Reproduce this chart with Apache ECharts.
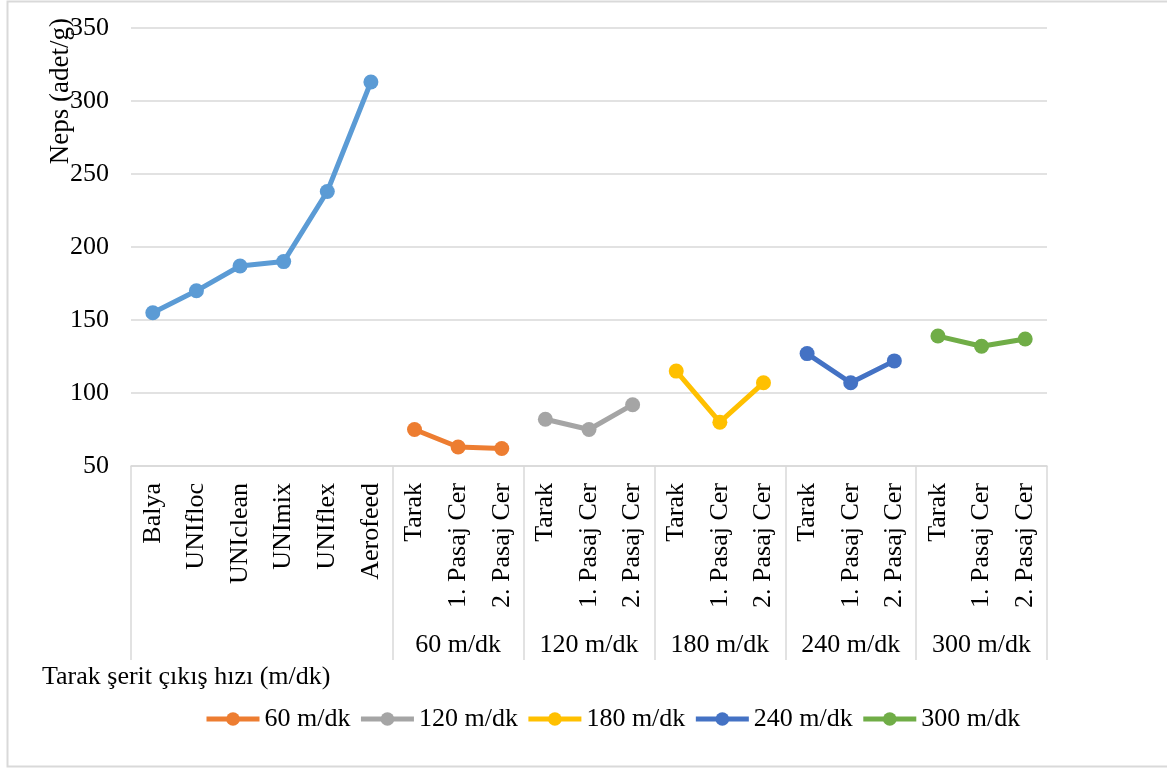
<!DOCTYPE html>
<html>
<head>
<meta charset="utf-8">
<script src="https://cdn.jsdelivr.net/npm/echarts@6/dist/echarts.min.js"></script>
<style>
  html, body { margin: 0; padding: 0; background: #ffffff; }
  #chart { width: 1167px; height: 769px; }
</style>
</head>
<body>
<div id="chart"></div>
<script>
// Opening-line stages and their neps counts
const processStages = ['Balya', 'UNIfloc', 'UNIclean', 'UNImix', 'UNIflex', 'Aerofeed'];
const processValues = [155, 170, 187, 190, 238, 313];

// Card / drawing stages, repeated for each card sliver delivery speed
const machineStages = ['Tarak', '1. Pasaj Cer', '2. Pasaj Cer'];
const speedGroups = ['60 m/dk', '120 m/dk', '180 m/dk', '240 m/dk', '300 m/dk'];
const values60 = [75, 63, 62];
const values120 = [82, 75, 92];
const values180 = [115, 80, 107];
const values240 = [127, 107, 122];
const values300 = [139, 132, 137];

const yTicks = [50, 100, 150, 200, 250, 300, 350];

const speedValues = [values60, values120, values180, values240, values300];
const mainColor = '#5B9BD5';
const speedColors = ['#ED7D31', '#A5A5A5', '#FFC000', '#4472C4', '#70AD47'];
const FONT = '"Liberation Serif", "Times New Roman", serif';
const FS = 26;
const LINE_W = 5;
const MARK = 15;

// Flat category list: opening stages followed by each speed's three stages
const categories = processStages.slice();
speedGroups.forEach(() => machineStages.forEach(s => categories.push(s)));

// Second-level labels: group name under the middle stage of each group
const groupLabels = categories.map(() => '');
const groupStarts = [0];
speedGroups.forEach((g, i) => {
  const start = processStages.length + i * machineStages.length;
  groupStarts.push(start);
  groupLabels[start + 1] = g;
});

function padded(values, offset) {
  const arr = categories.map(() => null);
  values.forEach((v, i) => { arr[offset + i] = v; });
  return arr;
}

const series = [{
  name: 'Açma hattı',
  type: 'line',
  data: padded(processValues, 0),
  symbol: 'circle',
  symbolSize: MARK,
  lineStyle: { width: LINE_W, color: mainColor },
  itemStyle: { color: mainColor },
  connectNulls: false
}];
speedGroups.forEach((g, i) => {
  series.push({
    name: g,
    type: 'line',
    data: padded(speedValues[i], processStages.length + i * machineStages.length),
    symbol: 'circle',
    symbolSize: MARK,
    lineStyle: { width: LINE_W, color: speedColors[i] },
    itemStyle: { color: speedColors[i] },
    connectNulls: false
  });
});

const chart = echarts.init(document.getElementById('chart'), null, { renderer: 'canvas' });
chart.setOption({
  animation: false,
  textStyle: { fontFamily: FONT },
  grid: { left: 131, right: 120, top: 28, bottom: 303, containLabel: false },
  legend: {
    data: speedGroups,
    left: 199,
    top: 701,
    itemWidth: 53,
    itemHeight: 17,
    itemGap: 8,
    lineStyle: { width: LINE_W },
    textStyle: { fontSize: FS, fontFamily: FONT, color: '#000' }
  },
  xAxis: [{
    type: 'category',
    data: categories,
    position: 'bottom',
    boundaryGap: true,
    axisLine: { lineStyle: { color: '#D9D9D9', width: 1.5 } },
    axisTick: { show: false },
    axisLabel: {
      interval: 0,
      rotate: 90,
      margin: 17,
      fontSize: FS,
      fontFamily: FONT,
      color: '#000'
    },
    splitLine: { show: false }
  }, {
    type: 'category',
    data: categories,
    position: 'bottom',
    boundaryGap: true,
    axisLine: { show: false },
    axisTick: {
      show: true,
      length: 194,
      interval: (index) => groupStarts.indexOf(index) !== -1,
      lineStyle: { color: '#D9D9D9', width: 1.5 }
    },
    axisLabel: {
      interval: 0,
      margin: 166,
      fontSize: FS,
      fontFamily: FONT,
      color: '#000',
      formatter: (value, index) => groupLabels[index]
    },
    splitLine: { show: false }
  }],
  yAxis: {
    type: 'value',
    min: yTicks[0],
    max: yTicks[yTicks.length - 1],
    interval: 50,
    axisLine: { show: false },
    axisTick: { show: false },
    axisLabel: { margin: 22, fontSize: FS, fontFamily: FONT, color: '#000' },
    splitLine: { lineStyle: { color: '#D9D9D9', width: 1.5 } }
  },
  series: series,
  graphic: [{
    type: 'rect',
    silent: true,
    shape: { x: 7.5, y: 1.5, width: 1170, height: 765 },
    style: { fill: 'none', stroke: '#D9D9D9', lineWidth: 2 },
    z: -10
  }, {
    type: 'text',
    x: 61,
    y: 18,
    rotation: Math.PI / 2,
    style: {
      text: 'Neps (adet/g)',
      fontSize: 27,
      fontFamily: FONT,
      fill: '#000',
      align: 'right',
      verticalAlign: 'middle'
    }
  }, {
    type: 'text',
    x: 42,
    y: 677,
    style: {
      text: 'Tarak şerit çıkış hızı (m/dk)',
      fontSize: FS,
      fontFamily: FONT,
      fill: '#000',
      align: 'left',
      verticalAlign: 'middle'
    }
  }]
});
</script>
</body>
</html>
